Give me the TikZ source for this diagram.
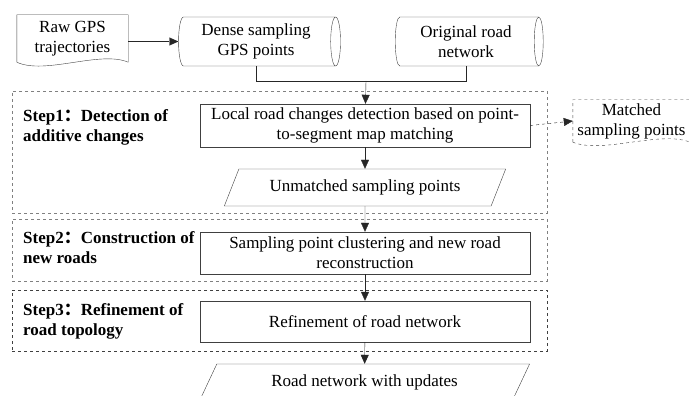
\documentclass[tikz,border=0pt]{standalone}
\usepackage{fontspec}
\setmainfont{Liberation Serif}
\newfontfamily\cjkfont{Noto Sans CJK SC}
\usetikzlibrary{shapes.geometric, arrows.meta, positioning}
\tikzstyle{process} = [
    rectangle,
    minimum width=330pt,
    minimum height=42pt,
    inner sep=2pt,
    text centered,
    align=center,
    draw=black!75
]
\tikzstyle{io} = [
    trapezium,
    trapezium left angle=60,
    trapezium right angle=120,
    trapezium stretches=true,
    minimum width=282pt,
    minimum height=37pt,
    inner sep=2pt,
    text centered,
    draw=black!75
]
\tikzstyle{store} = [
    cylinder,
    aspect=0.25,
    minimum height=162pt,
    minimum width=49pt,
    inner sep=2pt,
    align=center,
    draw=black!75
]
\tikzstyle{doc} = [
    rectangle,
    inner sep=2pt,
    align=center
]
\tikzstyle{stepframe} = [
    rectangle,
    dashed,
    draw=black!50,
    minimum width=535pt
]
\tikzstyle{steplabel} = [
    anchor=west,
    align=left,
    inner sep=0pt,
    font=\fontsize{17}{20}\selectfont\bfseries
]
\tikzstyle{arrow} = [
    draw=black!85,
    -{Triangle[length=9pt,width=8pt]}
]

\begin{document}
\begin{tikzpicture}[
    x=1pt,
    y=-1pt,
    font=\fontsize{17}{20}\selectfont
]
\clip (0,0) rectangle (689,396);

% dashed step frames
\node (step1) [stepframe, minimum height=122pt] at (279.5,152) {};
\node (step2) [stepframe, minimum height=62pt] at (279.5,250) {};
\node (step3) [stepframe, draw=black!75, minimum height=61pt] at (279.5,320.5) {};

\node (step1lbl) [steplabel] at (23,127)
{Step1{\cjkfont ：}Detection of\\additive changes};
\node (step2lbl) [steplabel] at (23,248)
{Step2{\cjkfont ：}Construction of\\new roads};
\node (step3lbl) [steplabel] at (23,321)
{Step3{\cjkfont ：}Refinement of\\road topology};

% inputs
\node (raw) [doc, minimum width=111pt, minimum height=47pt] at (72.5,38.5)
{Raw GPS\\trajectories};
\draw [black!75] (raw.south west) -- (raw.north west) -- (raw.north east)
-- (raw.south east) .. controls +(-28,-12) and +(28,13) .. (raw.south west);

\node (dense) [store] at (256,41.5)
{Dense sampling\\GPS points};

\node (orig) [store, minimum height=148pt] at (466,41.5)
{Original road\\network};

\coordinate (join) at (366,81);

% processes
\node (local) [process, minimum height=43pt] at (365,125.5)
{Local road changes detection based on point-\\to-segment map matching};

\node (unmatched) [io] at (365,187.5)
{Unmatched sampling points};

\node (sampling) [process] at (365,253)
{Sampling point clustering and new road\\reconstruction};

\node (refine) [process, minimum height=41pt] at (365,321.5)
{Refinement of road network};

\node (result) [io, minimum width=331pt] at (364.5,382.5)
{Road network with updates};

\node (matched) [doc, minimum width=117pt, minimum height=42pt] at (631.5,121)
{Matched\\sampling points};
\draw [black!75, dashed] (matched.south west) -- (matched.north west)
-- (matched.north east) -- (matched.south east)
.. controls +(-30,-12) and +(30,12) .. (matched.south west);

% connectors
\draw [arrow] (raw.east |- dense.west) -- (dense.west);
\draw [draw=black!85] (dense.south) |- (join);
\draw [draw=black!85] (orig.south) |- (join);
\draw [arrow] (join) -- (local);
\draw [arrow] (local) -- (unmatched);
\draw [arrow, dashed] (local.east) -- (matched.west);
\draw [arrow] (unmatched) -- (sampling);
\draw [arrow] (sampling) -- (refine);
\draw [arrow] (refine) -- (result);

\end{tikzpicture}
\end{document}
